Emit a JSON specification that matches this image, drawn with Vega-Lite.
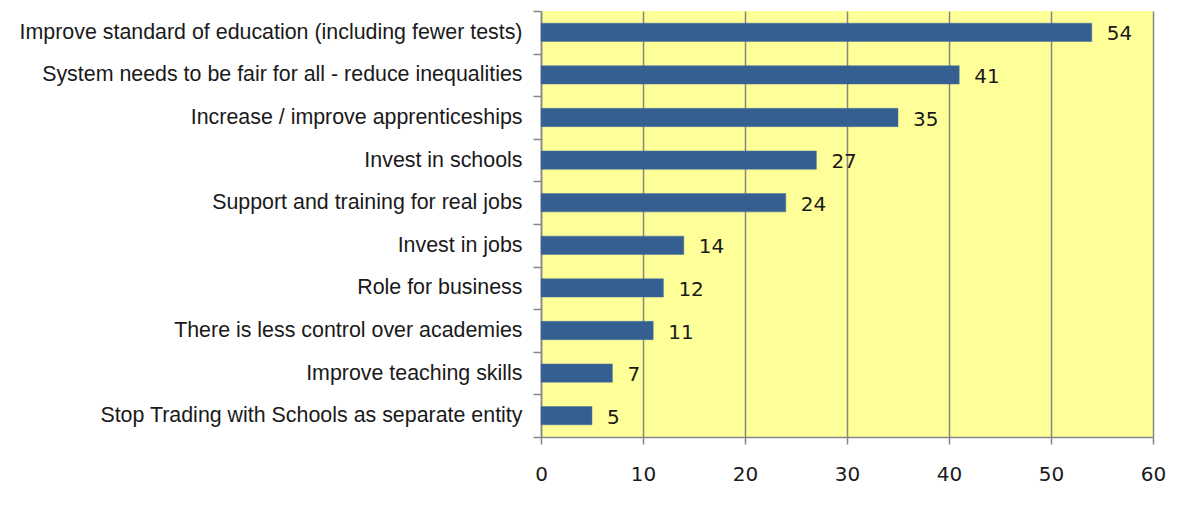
{
  "$schema": "https://vega.github.io/schema/vega-lite/v6.json",
  "autosize": {"type": "none"},
  "width": 612,
  "height": 426,
  "padding": {"left": 541, "top": 11, "right": 43, "bottom": 71},
  "background": "#ffffff",
  "config": {
    "view": {"fill": "#ffff99", "stroke": null}
  },
  "data": {
    "values": [
      {"reason": "Improve standard of education (including fewer tests)", "value": 54},
      {"reason": "System needs to be fair for all - reduce inequalities", "value": 41},
      {"reason": "Increase / improve apprenticeships", "value": 35},
      {"reason": "Invest in schools", "value": 27},
      {"reason": "Support and training for real jobs", "value": 24},
      {"reason": "Invest in jobs", "value": 14},
      {"reason": "Role for business", "value": 12},
      {"reason": "There is less control over academies", "value": 11},
      {"reason": "Improve teaching skills", "value": 7},
      {"reason": "Stop Trading with Schools as separate entity", "value": 5}
    ]
  },
  "encoding": {
    "y": {
      "field": "reason", "type": "nominal", "sort": null,
      "scale": {"paddingInner": 0, "paddingOuter": 0},
      "axis": {
        "title": null, "tickBand": "extent", "tickSize": 8, "tickColor": "#868686", "tickWidth": 1.5,
        "domainColor": "#868686", "domainWidth": 1.5, "labelPadding": 11,
        "labelFont": "Liberation Sans", "labelFontSize": 21.4, "labelColor": "#1a1a1a", "labelLimit": 600
      }
    },
    "x": {
      "field": "value", "type": "quantitative",
      "scale": {"domain": [0, 60]},
      "axis": {
        "title": null, "values": [0, 10, 20, 30, 40, 50, 60], "grid": true, "gridColor": "#868686", "gridWidth": 1.5,
        "tickSize": 7, "tickColor": "#868686", "tickWidth": 1.5, "domainColor": "#868686", "domainWidth": 1.5,
        "labelFlush": false, "labelOverlap": false,
        "labelPadding": 30, "labelBaseline": "middle", "labelFont": "DejaVu Sans", "labelFontSize": 20, "labelColor": "#1a1a1a"
      }
    }
  },
  "layer": [
    {"mark": {"type": "bar", "height": {"band": 0.43}, "color": "#365f91", "stroke": "#4a72a3", "strokeWidth": 0.5}},
    {"mark": {"type": "text", "align": "left", "baseline": "middle", "dx": 15, "dy": 2, "font": "DejaVu Sans", "fontSize": 20, "color": "#1a1a1a"},
     "encoding": {"text": {"field": "value", "type": "quantitative"}}}
  ]
}
